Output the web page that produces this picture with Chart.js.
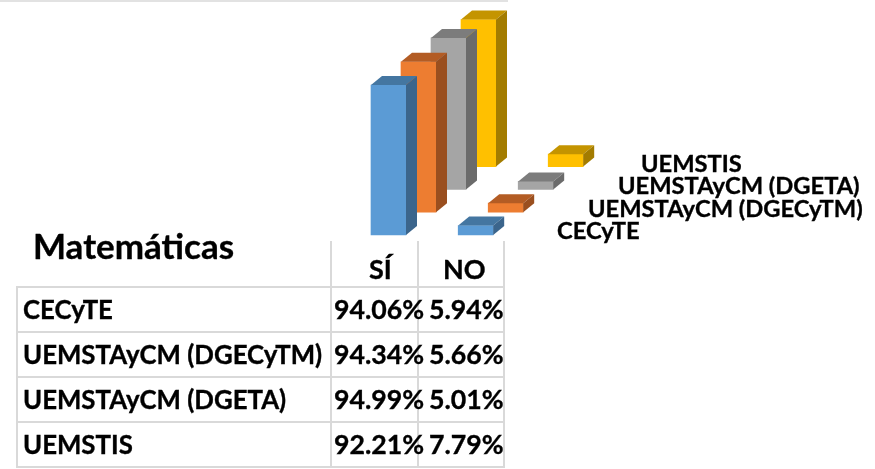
<!DOCTYPE html>
<html lang="es">
<head>
<meta charset="utf-8">
<title>Matemáticas</title>
<script src="https://cdn.jsdelivr.net/npm/chart.js@4"></script>
<style>
html,body{margin:0;padding:0;background:#fff;width:875px;height:469px;overflow:hidden;font-family:Lato,"Open Sans",sans-serif;font-weight:700;color:#000;-webkit-text-stroke:0.35px #000}
#wrap{position:relative;width:875px;height:469px}
#c{position:absolute;left:0;top:0}
#topline{position:absolute;left:0;top:0;width:508px;height:2px;background:#e2e2e2}
#title{position:absolute;left:33px;top:225px;font-size:35px;line-height:40px;white-space:nowrap}
.series{position:absolute;font-size:23.7px;line-height:24px;white-space:nowrap}
table{position:absolute;left:16px;top:241px;border-collapse:collapse;table-layout:fixed;width:487px;font-size:25.8px}
td,th{border:2px solid #d9d9d9;padding:0;white-space:nowrap;font-weight:700;overflow:visible}
tr.h td,tr.h th{height:45px;vertical-align:bottom;text-align:left;line-height:32px;border-top:none;font-size:27px}
tr.h th{padding-bottom:1px;box-sizing:border-box}
tr.h th:nth-child(2){padding-left:37px}
tr.h th:nth-child(3){padding-left:24px}
tr.h td.e{border:none;border-bottom:2px solid #d9d9d9}
tr.r td{height:41px;padding-bottom:2px;line-height:24px;vertical-align:middle}
td.n{padding-left:5px}
td.v{text-align:left;font-size:26.7px}
tr.r td:nth-child(2){padding-left:2px}
tr.r td:nth-child(3){padding-left:10px}
</style>
</head>
<body>
<div id="wrap">
<canvas id="c" width="875" height="469"></canvas>
<div id="topline"></div>
<div id="title">Matemáticas</div>
<div id="legend"></div>
<table id="t"></table>
</div>
<script>
const chartTitle = 'Matemáticas';
const categories = ['SÍ', 'NO'];
const seriesNames = ['CECyTE', 'UEMSTAyCM (DGECyTM)', 'UEMSTAyCM (DGETA)', 'UEMSTIS'];
const cecyte = [94.06, 5.94];
const dgecytm = [94.34, 5.66];
const dgeta = [94.99, 5.01];
const uemstis = [92.21, 7.79];
const seriesValues = [cecyte, dgecytm, dgeta, uemstis];

const frontColors = ['#5B9BD5', '#ED7D31', '#A5A5A5', '#FFC000'];
const topColors = ['#4476A1', '#B35C24', '#7C7C7C', '#C49400'];
const sideColors = ['#3B658C', '#9A4F1F', '#6B6B6B', '#A37C00'];

// pseudo-3D layout
const PX_PER_UNIT_Y = 1.595, PX_PER_CAT = 87.2, FIRST_CENTER = 388.5, FRONT_BASE = 235;
const DEPTH_DX = 30, DEPTH_DY = 22.8, BAR_W = 35, SIDE_DX = 11, SIDE_DY = 9;
const W = 875;

const scales = {};
seriesNames.forEach((_, d) => {
  const xMin = -(FIRST_CENTER + DEPTH_DX * d) / PX_PER_CAT;
  scales['x' + d] = {type: 'linear', display: false, offset: false, min: xMin, max: xMin + W / PX_PER_CAT, grid: {display: false}};
  const base = FRONT_BASE - DEPTH_DY * d;
  scales['y' + d] = {type: 'linear', display: false, min: -(FRONT_BASE - base) / PX_PER_UNIT_Y, max: base / PX_PER_UNIT_Y, grid: {display: false}};
});

const box3d = {
  id: 'box3d',
  afterDatasetDraw(chart, args) {
    const ctx = chart.ctx, d = args.index;
    chart.getDatasetMeta(d).data.forEach(bar => {
      const p = bar.getProps(['x', 'y', 'base', 'width'], true);
      const l = p.x - p.width / 2, r = p.x + p.width / 2, t = p.y, b = p.base;
      ctx.save();
      ctx.fillStyle = topColors[d];
      ctx.beginPath();
      ctx.moveTo(l, t); ctx.lineTo(l + SIDE_DX, t - SIDE_DY); ctx.lineTo(r + SIDE_DX, t - SIDE_DY); ctx.lineTo(r, t);
      ctx.closePath(); ctx.fill();
      ctx.fillStyle = sideColors[d];
      ctx.beginPath();
      ctx.moveTo(r, t); ctx.lineTo(r + SIDE_DX, t - SIDE_DY); ctx.lineTo(r + SIDE_DX, b - SIDE_DY); ctx.lineTo(r, b);
      ctx.closePath(); ctx.fill();
      ctx.restore();
    });
  }
};

new Chart(document.getElementById('c'), {
  type: 'bar',
  plugins: [box3d],
  data: {
    datasets: seriesNames.map((name, d) => ({
      label: name,
      data: seriesValues[d].map((v, i) => ({x: i, y: v})),
      xAxisID: 'x' + d,
      yAxisID: 'y' + d,
      backgroundColor: frontColors[d],
      borderWidth: 0,
      barThickness: BAR_W,
      grouped: false,
      clip: false
    }))
  },
  options: {
    responsive: false,
    animation: false,
    layout: {padding: {left: 0, right: 0, top: 0, bottom: 469 - FRONT_BASE}},
    plugins: {legend: {display: false}, title: {display: false}, tooltip: {enabled: false}},
    scales
  }
});

// data table
let html = '<colgroup><col style="width:314px"><col style="width:87px"><col style="width:86px"></colgroup>';
html += '<tr class="h"><td class="e"></td>' + categories.map(c => '<th>' + c + '</th>').join('') + '</tr>';
seriesNames.forEach((n, d) => {
  html += '<tr class="r"><td class="n">' + n + '</td>' +
    seriesValues[d].map(v => '<td class="v">' + v.toFixed(2) + '%</td>').join('') + '</tr>';
});
document.getElementById('t').innerHTML = html;

// depth-axis labels
const legendX = [557, 588, 618, 641], legendY = [218, 196, 173, 151];
document.getElementById('legend').innerHTML = seriesNames.map((n, d) =>
  '<div class="series" style="left:' + legendX[d] + 'px;top:' + legendY[d] + 'px">' + n + '</div>').join('');
</script>
</body>
</html>
